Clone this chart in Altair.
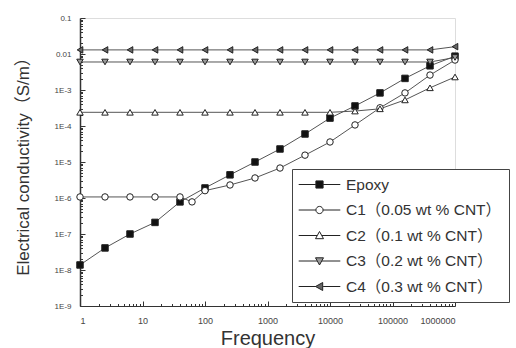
import altair as alt
import pandas as pd

# ---------------- data ----------------
SERIES = ["Epoxy", "C1（0.05 wt % CNT）", "C2（0.1 wt % CNT）",
          "C3（0.2 wt % CNT）", "C4（0.3 wt % CNT）"]

FREQ = [1, 2.512, 6.31, 15.85, 39.81, 100, 251.2, 631, 1585, 3981,
        10000, 25119, 63096, 158489, 398107, 1000000]
FREQ_C1 = [1, 2.512, 6.31, 15.85, 39.81, 62, 100, 251.2, 631, 1585, 3981,
           10000, 25119, 63096, 158489, 398107, 1000000]

EPOXY = [1.38e-8, 4.1e-8, 1.0e-7, 2.1e-7, 7.8e-7, 1.9e-6, 4.4e-6, 1.0e-5,
         2.3e-5, 6.0e-5, 1.66e-4, 3.6e-4, 8.3e-4, 2.1e-3, 4.7e-3, 8.7e-3]
C1 = [1.07e-6, 1.07e-6, 1.07e-6, 1.07e-6, 1.07e-6, 7.8e-7, 1.6e-6, 2.3e-6,
      3.6e-6, 6.8e-6, 1.55e-5, 3.6e-5, 1.07e-4, 3.2e-4, 8.3e-4, 2.6e-3, 6.8e-3]
C2 = [2.4e-4, 2.4e-4, 2.4e-4, 2.4e-4, 2.4e-4, 2.4e-4, 2.4e-4, 2.4e-4,
      2.4e-4, 2.4e-4, 2.4e-4, 2.6e-4, 3.0e-4, 5.3e-4, 1.15e-3, 2.3e-3]
C3 = [6.0e-3, 6.0e-3, 6.0e-3, 6.0e-3, 6.0e-3, 6.0e-3, 6.0e-3, 6.0e-3,
      6.0e-3, 6.0e-3, 6.0e-3, 6.0e-3, 6.0e-3, 6.0e-3, 6.0e-3, 8.0e-3]
C4 = [1.3e-2, 1.3e-2, 1.3e-2, 1.3e-2, 1.3e-2, 1.3e-2, 1.3e-2, 1.3e-2,
      1.3e-2, 1.3e-2, 1.3e-2, 1.3e-2, 1.3e-2, 1.3e-2, 1.3e-2, 1.6e-2]

X_TICKS = [1, 10, 100, 1000, 10000, 100000, 1000000]
X_TICK_LABELS = ["1", "10", "100", "1000", "10000", "100000", "1000000"]
Y_TICKS = [0.1, 0.01, 1e-3, 1e-4, 1e-5, 1e-6, 1e-7, 1e-8, 1e-9]
Y_TICK_LABELS = ["0.1", "0.01", "1E-3", "1E-4", "1E-5", "1E-6", "1E-7", "1E-8", "1E-9"]

# ---------------- styles ----------------
FONT = "Liberation Sans, Arial, 'Noto Sans CJK SC'"
SHAPES = ["square", "circle", "triangle-up", "triangle-down", "triangle-left"]
FILLS = ["#111111", "#ffffff", "#ffffff", "#999999", "#666666"]
STROKES = ["#222222"] * 5
LEG_PATHS = [
    "M-2.6,0H-0.45M0.45,0H2.6M-0.45,-0.45H0.45V0.45H-0.45Z",
    "M-2.6,0H-0.45M0.45,0H2.6M-0.45,0A0.45,0.45 0 1,0 0.45,0A0.45,0.45 0 1,0 -0.45,0Z",
    "M-2.6,0H-0.3M0.3,0H2.6M0,-0.5L0.5,0.4H-0.5Z",
    "M-2.6,0H-0.3M0.3,0H2.6M0,0.5L0.5,-0.4H-0.5Z",
    "M-2.6,0H-0.45M0.45,0H2.6M-0.5,0L0.4,-0.5V0.5Z",
]

rows = []
for name, fr, vals in [(SERIES[0], FREQ, EPOXY), (SERIES[1], FREQ_C1, C1),
                       (SERIES[2], FREQ, C2), (SERIES[3], FREQ, C3),
                       (SERIES[4], FREQ, C4)]:
    for f, v in zip(fr, vals):
        rows.append({"series": name, "freq": f, "value": v})
df = pd.DataFrame(rows)

xs = alt.Scale(type="log", domain=[1, 1000000], nice=False)
ys = alt.Scale(type="log", domain=[1e-9, 0.1], nice=False)

x_label_expr = "[" + ",".join("'%s'" % s for s in X_TICK_LABELS) + "][round(log(datum.value)/LN10)]"
y_label_expr = "[" + ",".join("'%s'" % s for s in Y_TICK_LABELS) + "][round(-log(datum.value)/LN10)-1]"

minor_x = [m * 10 ** k for k in range(0, 6) for m in range(2, 10)]
minor_y = [m * 10 ** k for k in range(-9, -1) for m in range(2, 10)]

base = alt.Chart(df)

lines = base.mark_line(color="#555555", strokeWidth=1).encode(
    x=alt.X("freq:Q", scale=xs, axis=alt.Axis(
        orient="bottom", values=X_TICKS, labelExpr=x_label_expr, ticks=False,
        tickSize=0, grid=False, domainColor="#333333", domainWidth=1.2,
        labelFont=FONT, labelFontSize=9, labelColor="#444444", labelPadding=10,
        title="Frequency", titleFont=FONT, titleFontSize=20, titleFontWeight="normal",
        titleColor="#333333", titlePadding=3)),
    y=alt.Y("value:Q", scale=ys, axis=alt.Axis(
        orient="left", values=Y_TICKS, labelExpr=y_label_expr, ticks=False,
        tickSize=0, grid=False, domainColor="#333333", domainWidth=1.5,
        labelFont=FONT, labelFontSize=8, labelColor="#444444", labelPadding=9,
        title="Electrical conductivity（S/m）", titleFont=FONT, titleFontSize=17,
        titleFontWeight="normal", titleColor="#333333", titlePadding=22)),
    detail="series:N",
    order="freq:Q",
)

points = base.mark_point(filled=True, stroke="#222222", strokeWidth=1, size=42, opacity=1).encode(
    x=alt.X("freq:Q", scale=xs, axis=None),
    y=alt.Y("value:Q", scale=ys, axis=None),
    shape=alt.Shape("series:N", scale=alt.Scale(domain=SERIES, range=SHAPES), legend=None),
    fill=alt.Fill("series:N", scale=alt.Scale(domain=SERIES, range=FILLS), legend=None),
)

leg_kw = dict(orient="none", legendX=212, legendY=151, title=None,
              strokeColor="#444444", fillColor="#ffffff", padding=7,
              rowPadding=8.5, symbolOffset=12, labelOffset=18,
              labelFont=FONT, labelFontSize=15.5, labelColor="#333333",
              symbolSize=256, symbolStrokeWidth=1, symbolStrokeColor="#222222",
              symbolOpacity=1)

legend_layer = base.transform_filter("false").mark_point(
    filled=True, strokeWidth=1, opacity=1).encode(
    x=alt.X("freq:Q", scale=xs, axis=None),
    y=alt.Y("value:Q", scale=ys, axis=None),
    shape=alt.Shape("series:N", scale=alt.Scale(domain=SERIES, range=LEG_PATHS),
                    legend=alt.Legend(**leg_kw)),
    fill=alt.Fill("series:N", scale=alt.Scale(domain=SERIES, range=FILLS),
                  legend=alt.Legend(**leg_kw)),
    stroke=alt.Stroke("series:N", scale=alt.Scale(domain=SERIES, range=STROKES),
                      legend=alt.Legend(**leg_kw)),
)


def tick_layer(channel, values, size):
    ax = alt.Axis(values=values, labels=False, domain=False, grid=False,
                  ticks=True, tickSize=size, offset=-size, tickColor="#333333",
                  tickWidth=1, title=None,
                  orient="bottom" if channel == "x" else "left")
    enc = {
        "x": alt.X("freq:Q", scale=xs, axis=ax if channel == "x" else None),
        "y": alt.Y("value:Q", scale=ys, axis=ax if channel == "y" else None),
    }
    return base.mark_point(opacity=0).encode(**enc)


chart = alt.layer(
    lines, points, legend_layer,
    tick_layer("x", X_TICKS, 5), tick_layer("x", minor_x, 2.5),
    tick_layer("y", Y_TICKS, 5), tick_layer("y", minor_y, 2.5),
).resolve_scale(
    shape="independent", fill="independent", stroke="independent"
).resolve_axis(
    x="independent", y="independent"
).properties(
    width=375, height=288,
    autosize=alt.AutoSizeParams(type="none"),
    padding={"left": 80, "top": 18, "right": 61, "bottom": 42},
).configure_view(stroke=None).configure(background="white")

chart.save("out.html", embed_options={"renderer": "svg", "actions": False})
